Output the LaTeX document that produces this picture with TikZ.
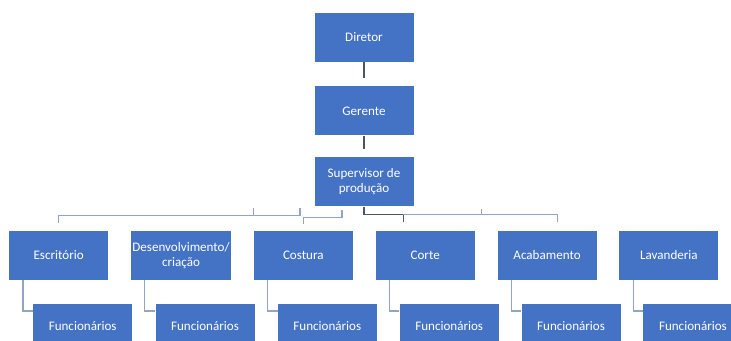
\documentclass[tikz,border=0pt]{standalone}
\usepackage{fontspec}
\setmainfont{Carlito}
\usepackage{tikz}
\usetikzlibrary{positioning}
\definecolor{boxblue}{HTML}{4472C4}
\definecolor{linelight}{HTML}{93A5C3}
\definecolor{linedark}{HTML}{4A5568}
\tikzset{
    post/.style={
        rectangle, fill=boxblue,
        text=white, align=center,
        inner sep=1pt,
        minimum width=74.25pt,
        minimum height=36.75pt,
        font=\fontsize{9.8}{11.5}\selectfont
    },
    staff/.style={
        post,
        minimum height=33pt
    },
    conn/.style={
        line width=1pt, draw=linelight
    },
    connd/.style={
        line width=1.2pt, draw=linedark
    },
}
\begin{document}
\begin{tikzpicture}
            [node distance=18pt]
            \useasboundingbox (0,0) rectangle (548.25pt,-255.75pt);
            \clip (0,0) rectangle (548.25pt,-255.75pt);
            % Draw top chain
            \node[post] (dir) at (273pt,-28.1pt) {Diretor};
            \node[post, below=of dir] (ger) {Gerente};
            \node[post, below=16pt of ger] (sup) {Supervisor de\\produção};

            \draw[connd] (dir.south) -- ++(0,-12pt);
            \draw[connd] (ger.south) -- ++(0,-10pt);

            % Draw sections
            \node[post, below=18pt of sup, xshift=-45.5pt] (cost) {Costura};
            \node[post, left=16.75pt of cost] (dev) {Desenvolvimento/\\criação};
            \node[post, left=16.75pt of dev] (escr) {Escritório};
            \node[post, right=16.75pt of cost] (corte) {Corte};
            \node[post, right=16.75pt of corte] (acab) {Acabamento};
            \node[post, right=16.75pt of acab] (lav) {Lavanderia};

            % Draw bus
            \draw[conn] ([yshift=6pt]escr.north) |- ([xshift=-2.6pt, yshift=11.25pt]cost.north) -- ++(0,6pt);
            \draw[conn] ([yshift=11.25pt]cost.north west) -- ++(0,6pt);
            \draw[conn] ([yshift=5.25pt]cost.north) |- ([xshift=29pt, yshift=9.75pt]cost.north) -- ++(0,6pt);
            \draw[connd] (sup.south) |- ([xshift=21pt, yshift=12pt]corte.north west) -- ([xshift=21pt, yshift=6.75pt]corte.north west);
            \draw[conn] ([xshift=21pt, yshift=12pt]corte.north west) -| ([xshift=8pt, yshift=6.75pt]acab.north);
            \draw[conn] ([xshift=-12pt, yshift=12pt]acab.north west) -- ++(0,4.5pt);

            % Draw staff
            \foreach \sec in {escr, dev, cost, corte, acab, lav} {
                \node[staff, below=18pt of \sec, xshift=18pt] (f\sec) {Funcionários};
                \draw[conn] ([xshift=10.5pt]\sec.south west) |- ([yshift=-5.25pt]f\sec.north west);
            }

        \end{tikzpicture}
\end{document}
